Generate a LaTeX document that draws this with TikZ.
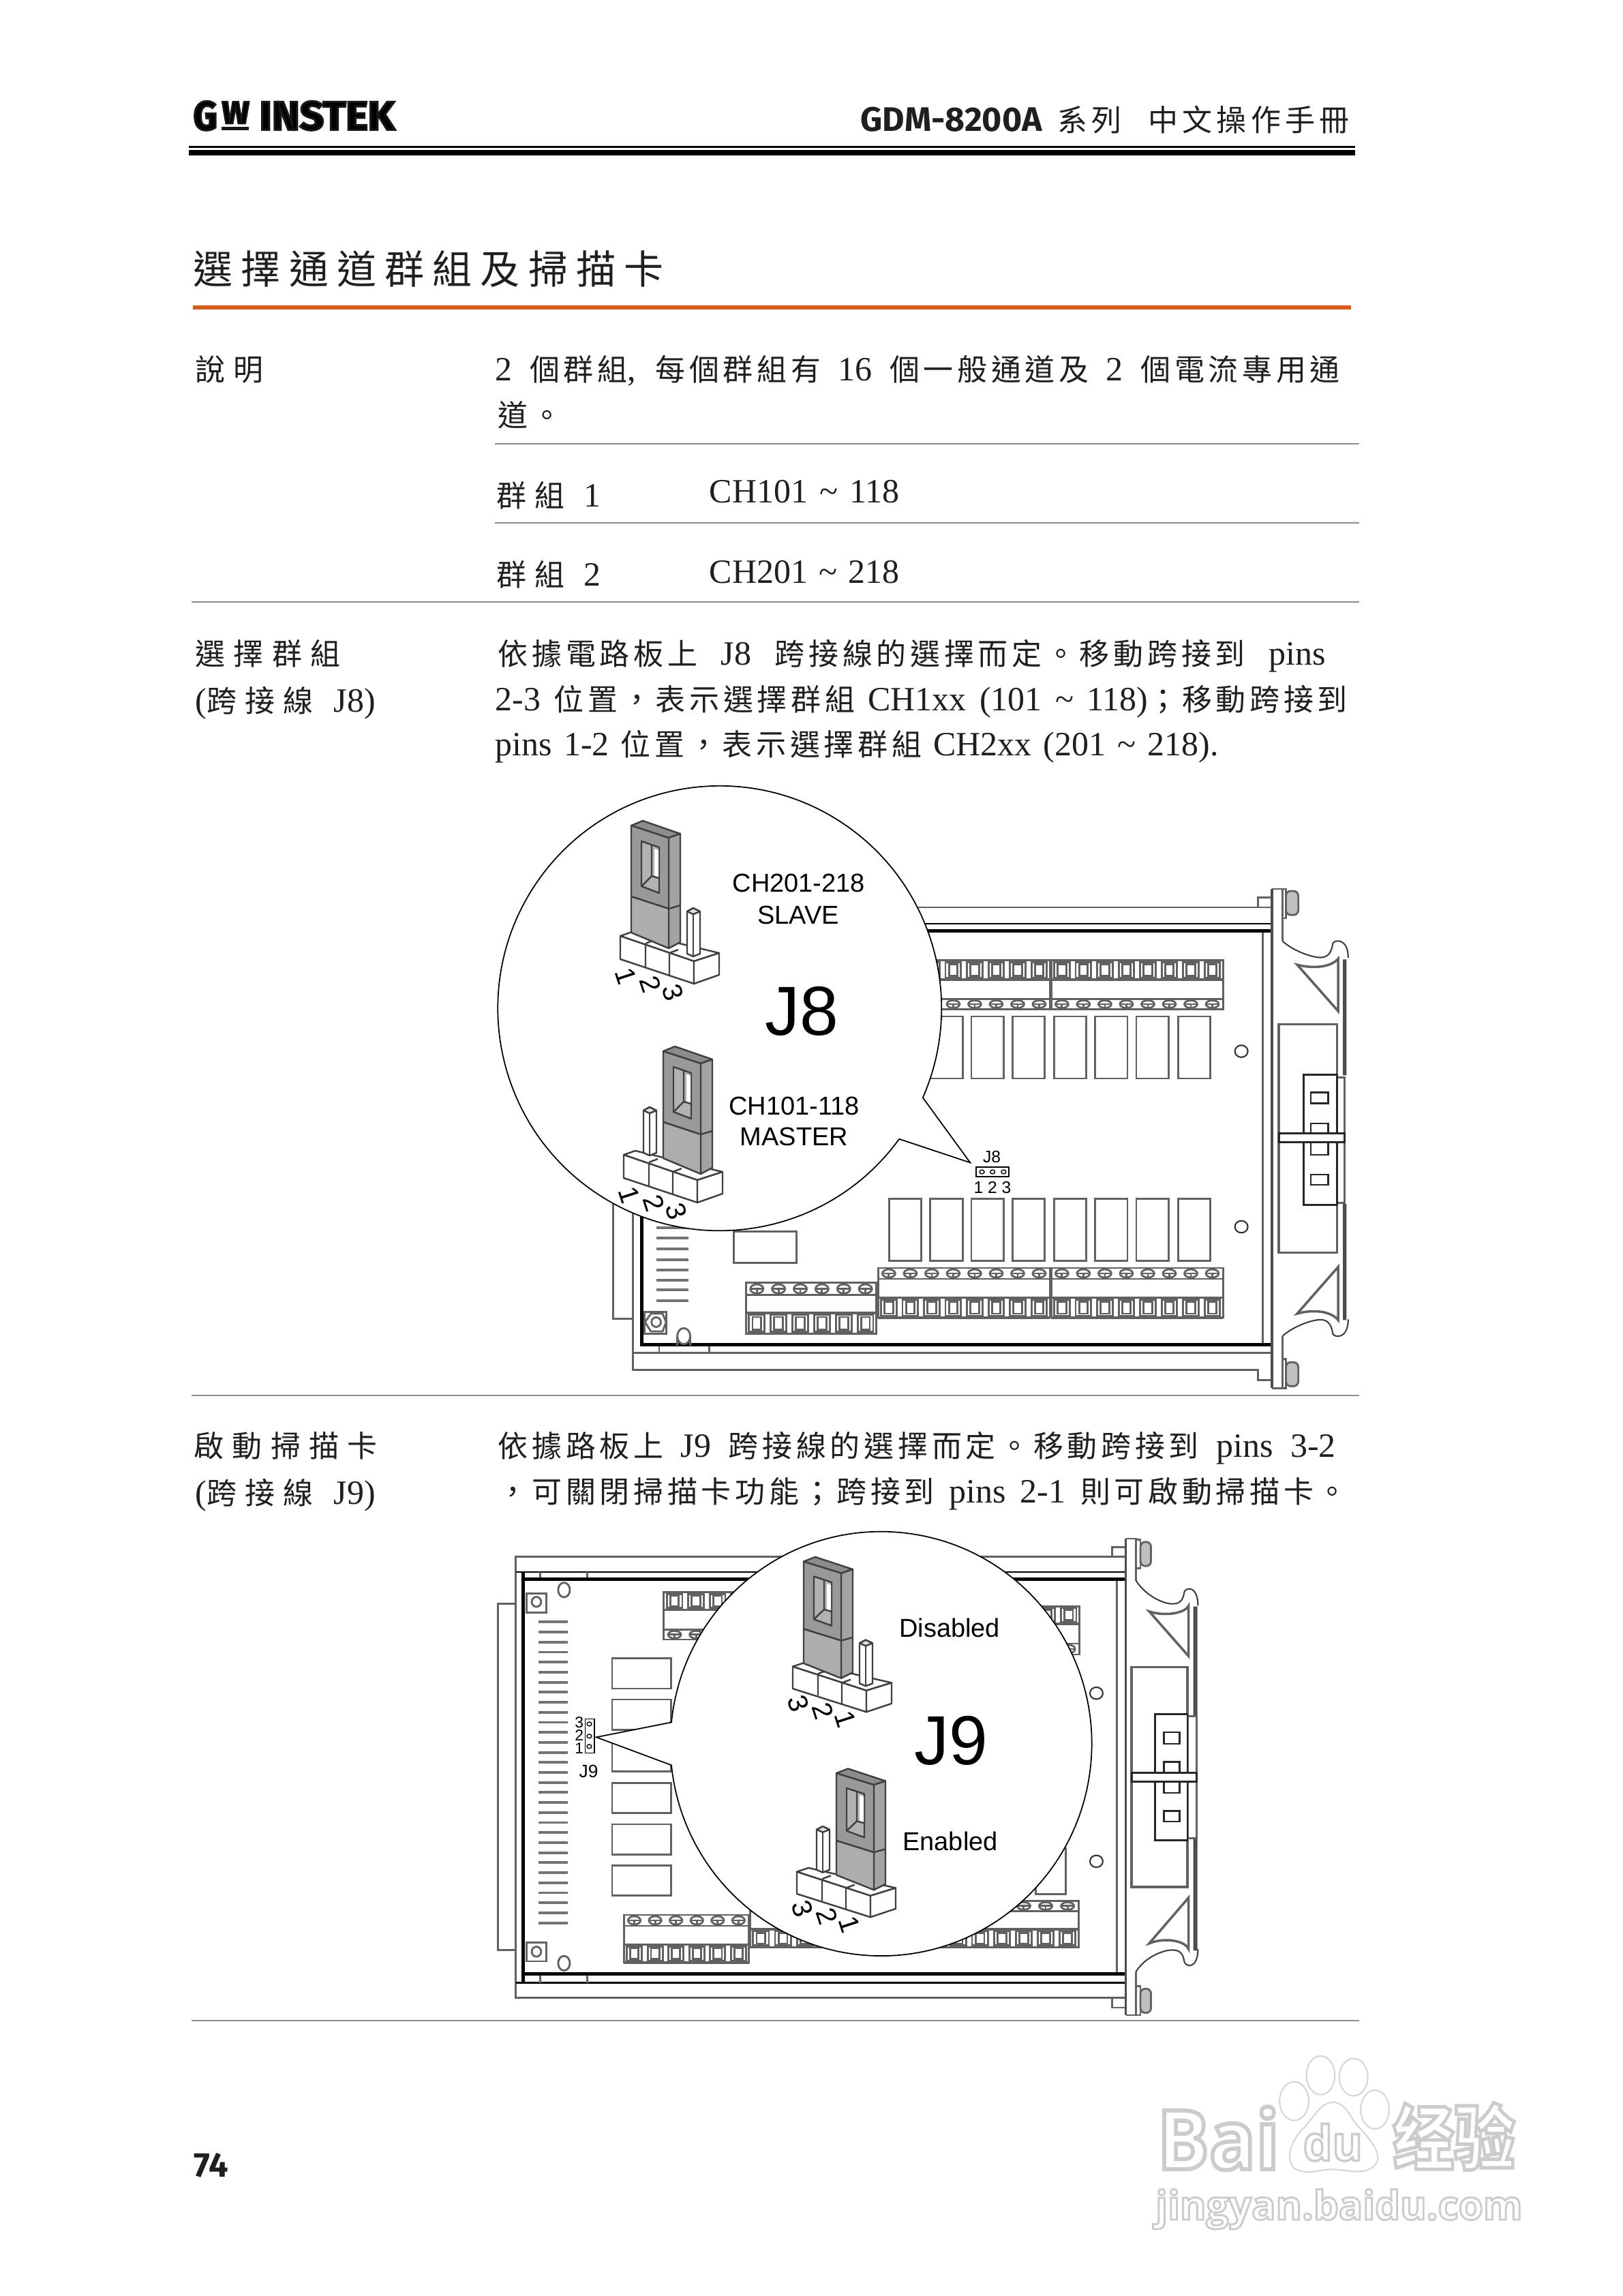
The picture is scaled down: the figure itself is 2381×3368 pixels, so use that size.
\documentclass[tikz,border=0pt]{standalone}
\usepackage{fontspec}
\setmainfont{Liberation Serif}
\newfontfamily\cjk[LetterSpace=13]{Noto Sans CJK TC}
\newfontfamily\cjkw[LetterSpace=28]{Noto Sans CJK TC}
\newfontfamily\cjkt[LetterSpace=21]{Noto Sans CJK TC}
\newfontfamily\cjkh[LetterSpace=14]{Noto Sans CJK TC}
\newfontfamily\cjksc{Noto Sans CJK SC}
\newfontfamily\arial{Liberation Sans}
\newfontfamily\fira{Fira Sans}
\newfontfamily\osans{Open Sans}
\newlength\ulen \setlength{\ulen}{0.01cm}
\definecolor{orng}{HTML}{DD5A14}
\definecolor{txt}{gray}{0.12}
\tikzset{
 bl/.style={draw=black!62,line width=0.8pt},
 blk/.style={draw=black,line width=1.4pt},
 jl/.style={draw=black!75,line width=0.7pt,line join=round},
 ln/.style={anchor=base west,inner sep=0pt,text=txt},
 rl/.style={draw=black!45,line width=0.55pt},
 sans/.style={inner sep=0pt,font=\arial\fontsize{10.8}{12}\selectfont,text=black},
 jd/.style={inner sep=0pt,rotate=-72,font=\arial\fontsize{11.5}{12}\selectfont,text=black},
 wm/.style={draw=black!16,line width=0.6pt,fill=white}
}
\newcommand\B{\fontsize{14.2}{16}\selectfont}
\newcommand\Cs{\fontsize{12.5}{15}\selectfont}
\newcommand\C[1]{{\Cs\cjk #1}}
\newcommand\Cw[1]{{\Cs\cjkw #1}}
\newcommand\Ln[4]{\node[ln] at (#1,#2) {\B\makebox[#3\ulen][s]{#4}};}
\newcommand\Lf[3]{\node[ln] at (#1,#2) {\B #3};}
\newcommand\wmt[1]{\special{pdf:code 1 Tr 0.5 w 0.8 G}#1\special{pdf:code 0 Tr 0 G}}
\newcommand\logot[1]{\special{pdf:code 2 Tr 0.5 w 0.1 G}#1\special{pdf:code 0 Tr 0 G}}
\newcommand\tld{\textasciitilde}
% terminal block: x0,n,w,squares y0,y1,screws y0,y1
\newcommand\tblock[7]{%
 \pgfmathsetmacro\xe{#1+#2*#3}
 \pgfmathsetmacro\ya{min(#4,#6)}\pgfmathsetmacro\yb{max(#5,#7)}
 \draw[bl,fill=white] (#1,\ya) rectangle (\xe,\yb);
 \draw[bl,line width=1pt] (#1,#4)--(\xe,#4) (#1,#5)--(\xe,#5);
 \draw[bl] (#1,#6)--(\xe,#6) (#1,#7)--(\xe,#7);
 \pgfmathtruncatemacro\nn{#2-1}
 \foreach \i in {0,...,\nn}{
  \pgfmathsetmacro\xl{#1+\i*#3}
  \pgfmathsetmacro\cy{(#6+#7)/2}\pgfmathsetmacro\ry{(#7-#6)*0.38}
  \pgfmathsetmacro\ym{(#4+#5)/2}\pgfmathsetmacro\hh{(#5-#4)*0.3}
  \draw[bl] ({\xl+#3*0.14},{#4+(#5-#4)*0.1}) rectangle ({\xl+#3*0.86},{#5-(#5-#4)*0.1});
  \draw[bl] ({\xl+#3*0.3},\ym-\hh) rectangle ({\xl+#3*0.7},\ym+\hh);
  \draw[bl] ({\xl+#3*0.5},\cy) ellipse [x radius={#3*0.3},y radius=\ry];
  \draw[bl] ({\xl+#3*0.22},\cy)--({\xl+#3*0.78},\cy) ({\xl+#3*0.5},\cy)--({\xl+#3*0.5},\cy+\ry);
 }
}
% jumper parts in local px
\newcommand\jbase{%
 \draw[jl,fill=white] (0,-34)--(17,-40)--(145,-9)--(108,3)--cycle;
 \draw[jl,fill=white] (0,-34)--(108,3)--(108,36)--(0,0)--cycle;
 \draw[jl,fill=white] (108,3)--(145,-9)--(145,23)--(108,36)--cycle;
 \draw[jl] (37,-23)--(37,11) (72,-9)--(72,23) (37,-23)--(50,-28) (72,-9)--(85,-14);
}
\newcommand\jpin[2]{\begin{scope}[shift={(#1,#2)}]
 \draw[jl,fill=white] (98,-70)--(98,-8)--(107,-4)--(117,-8)--(117,-70)--(107,-75)--cycle;
 \draw[jl,fill=black!12] (98,-70)--(107,-75)--(117,-70)--(107,-66)--cycle;
 \draw[jl] (107,-66)--(107,-4);
 \end{scope}}
\newcommand\jcap[2]{\begin{scope}[shift={(#1,#2)}]
 \filldraw[jl,fill=black!45] (16,-196)--(33,-203)--(88,-184)--(71,-178)--cycle;
 \filldraw[jl,fill=black!36] (71,-178)--(88,-184)--(88,-25)--(71,-16)--cycle;
 \filldraw[jl,fill=black!40] (16,-196)--(71,-178)--(71,-74)--(16,-92)--cycle;
 \filldraw[jl,fill=black!32] (16,-92)--(71,-74)--(71,-16)--(16,-39)--cycle;
 \draw[jl] (71,-74)--(88,-79);
 \filldraw[jl,fill=black!30] (31,-173)--(57,-164)--(57,-97)--(31,-107)--cycle;
 \fill[white] (50,-162)--(56,-160)--(56,-120)--(50,-122)--cycle;
 \draw[jl] (46,-168)--(46,-122) (31,-107)--(46,-122)--(57,-119);
 \end{scope}}
\newcommand\jdig[4]{\node[jd] at (8,#4+25) {#1}; \node[jd] at (44,#4+37) {#2}; \node[jd] at (77,#4+49) {#3};}
\begin{document}
\begin{tikzpicture}[x=0.01cm,y=-0.01cm]
\useasboundingbox (0,0) rectangle (2381,3368);
\fill[white] (0,0) rectangle (2381,3368);
% header
\node[inner sep=0pt,anchor=south west] (logoG) at (283,192) {\resizebox{0.35cm}{0.42cm}{\fira\bfseries\logot{G}}};
\node[inner sep=0pt,anchor=south west] (logoW) at (325,182) {\resizebox{0.40cm}{0.32cm}{\fira\bfseries\logot{W}}};
\fill[black!90] (325,186) rectangle (365,191);
\node[inner sep=0pt,anchor=south west] (logoI) at (380,192) {\resizebox{1.98cm}{0.42cm}{\fira\bfseries\logot{INSTEK}}};
\node[ln] (ttlA) at (1262,192) {\fira\bfseries\fontsize{14.2}{16}\selectfont GDM-8200A};
\node[ln] (ttlB) at (1551,192) {\Cs\cjkh 系列};
\node[ln] (ttlC) at (1684,192) {\Cs\cjkh 中文操作手冊};
\fill[black] (277,214) rectangle (1988,217);
\fill[black] (277,220) rectangle (1988,228);
\node[ln] (title) at (283,416) {\fontsize{16.5}{18}\selectfont\cjkt 選擇通道群組及掃描卡};
\fill[orng] (283,448) rectangle (1982,454);
% text rows
\Lf{286}{558}{\Cw{說明}}
\Ln{726}{558}{1239}{2 \C{個群組}, \C{每個群組有} 16 \C{個一般通道及} 2 \C{個電流專用通}}
\Lf{730}{625}{\C{道。}}
\draw[rl] (726,651)--(1994,651);
\Ln{728}{743}{153}{\Cw{群組} 1}
\Ln{1040}{737}{279}{CH101 \tld{} 118}
\draw[rl] (726,767)--(1994,767);
\Ln{728}{859}{153}{\Cw{群組} 2}
\Ln{1040}{855}{279}{CH201 \tld{} 218}
\draw[rl] (281,883)--(1994,883);
\Lf{286}{975}{\Cw{選擇群組}}
\Ln{286}{1044}{264}{(\Cw{跨接線} J8)}
\Ln{730}{975}{1214}{\C{依據電路板上} J8 \C{跨接線的選擇而定。移動跨接到} pins}
\Ln{726}{1042}{1250}{2-3 \C{位置，表示選擇群組} CH1xx (101 \tld{} 118)\C{；移動跨接到}}
\Ln{726}{1108}{1061}{pins 1-2 \C{位置，表示選擇群組} CH2xx (201 \tld{} 218).}
\draw[rl] (281,2047)--(1994,2047);
\Lf{284}{2137}{\Cw{啟動掃描卡}}
\Ln{286}{2206}{264}{(\Cw{跨接線} J9)}
\Ln{730}{2137}{1229}{\C{依據路板上} J9 \C{跨接線的選擇而定。移動跨接到} pins 3-2}
\Ln{730}{2204}{1246}{\C{，可關閉掃描卡功能；跨接到} pins 2-1 \C{則可啟動掃描卡。}}
\draw[rl] (281,2964)--(1994,2964);
\node[ln] (page) at (284,3193) {\fira\bfseries\fontsize{14.4}{16}\selectfont 74};
% ---------------- BOARD 1
\begin{scope}[shift={(700,1150)},x=0.00861cm,y=-0.00587cm]
 \draw[bl] (232,1000)--(232,1335)--(265,1335);
 \draw[bl] (265,1000)--(265,1462)--(1330,1462)--(1330,1488)--(1354,1488);
 \draw[bl] (265,1420)--(1354,1420);
 \draw[bl] (310,1402)--(310,1420) (395,1402)--(395,1420);
 \draw[bl] (600,308)--(1354,308);
 \draw[bl] (1330,308)--(1330,283)--(1354,283);
 \draw[draw=black,line width=0.6pt] (600,349)--(1354,349);
 \draw[bl] (1338,366)--(1338,1400);
 \draw[blk] (600,366)--(1354,366);
 \draw[blk] (280,1000)--(280,1400)--(1354,1400);
 % front panel
 \draw[draw=black!70,line width=1.1pt] (1354,262)--(1354,1508);
 \draw[bl] (1354,262)--(1372,262)--(1372,392) (1354,1508)--(1372,1508)--(1372,1378);
 % screws
 \draw[bl,fill=white] (1372,262) rectangle (1378,335);
 \draw[bl,rounded corners=2pt,fill=black!25] (1378,267) rectangle (1399,327);
 \draw[bl,fill=white] (1372,1435) rectangle (1378,1508);
 \draw[bl,rounded corners=2pt,fill=black!25] (1378,1443) rectangle (1399,1503);
 % clips
 \draw[draw=black!75,line width=0.6pt] (1372,392) .. controls (1388,414) and (1420,433) .. (1437,433) .. controls (1452,433) and (1456,415) .. (1458,397) .. controls (1462,388) and (1484,385) .. (1484,434);
 \draw[draw=black!75,line width=0.6pt] (1372,1378) .. controls (1388,1356) and (1420,1337) .. (1437,1337) .. controls (1452,1337) and (1456,1355) .. (1458,1373) .. controls (1462,1382) and (1484,1385) .. (1484,1336);
 \draw[bl,line width=1pt,line join=miter] (1397,451) .. controls (1425,462) and (1455,457) .. (1467,436)--(1467,567)--cycle;
 \draw[bl,line width=1pt,line join=miter] (1397,1322) .. controls (1425,1310) and (1455,1316) .. (1467,1338)--(1467,1205)--cycle;
 \fill[black!70] (1475,438) rectangle (1481,727) (1475,1048) rectangle (1481,1338);
 % connector
 \draw[bl,line width=1pt] (1366,600) rectangle (1465,1170);
 \draw[bl] (1465,732)--(1478,732)--(1478,1045)--(1465,1045);
 \draw[draw=black!85,line width=0.8pt,fill=white] (1408,725) rectangle (1465,1050);
 \draw[draw=black!85,line width=0.8pt,fill=white] (1366,872) rectangle (1478,894);
 \draw[draw=black!85,line width=0.7pt] (1420,770) rectangle (1450,797) (1420,847) rectangle (1450,872) (1420,894) rectangle (1450,925) (1420,975) rectangle (1450,1000);
 % relays
 \foreach \x in {702,772,842,912,983,1053,1123,1194}{
  \draw[bl] (\x,580) rectangle ({\x+55},735);
  \draw[bl] (\x,1035) rectangle ({\x+55},1190);
 }
 \draw[draw=black!80,line width=0.6pt] (1302,667) ellipse [x radius=11,y radius=15];
 \draw[draw=black!80,line width=0.6pt] (1302,1105) ellipse [x radius=11,y radius=15];
 % terminals
 \tblock{683}{8}{36.6}{440}{488}{537}{562}
 \tblock{978}{8}{36.6}{440}{488}{537}{562}
 \tblock{683}{8}{36.6}{1282}{1332}{1208}{1235}
 \tblock{978}{8}{36.6}{1282}{1332}{1208}{1235}
 \tblock{458}{6}{37}{1320}{1372}{1245}{1275}
 % misc
 \draw[bl] (437,1117) rectangle (544,1195);
 \foreach \y in {1080,1107,1133,1160,1187,1213,1238,1263,1290}{ \draw[draw=black!55,line width=1.1pt] (305,\y)--(360,\y); }
 \draw[bl] (285,1318) rectangle (322,1372);
 \draw[bl] (305,1343) ellipse [x radius=8,y radius=12];
 \draw[bl] (286,1343)--(296,1322)--(316,1322)--(322,1343)--(316,1366)--(296,1366)--cycle;
 \draw[bl] (352,1378) ellipse [x radius=11,y radius=20];
 \draw[bl] (341,1380)--(341,1402) (363,1380)--(363,1402);
 % small J8
 \node[sans,font=\arial\fontsize{7}{8}\selectfont] (j8s) at (877,931) {J8};
 \draw[draw=black,line width=0.5pt] (850,956) rectangle (906,980);
 \foreach \x in {860,878,897}{ \draw[draw=black,line width=0.4pt] (\x,968) ellipse [x radius=4,y radius=5]; }
 \node[sans,font=\arial\fontsize{7}{8}\selectfont] (j8d) at (878,1008) {1 2 3};
 % callout
 \draw[draw=black,line width=0.5pt,fill=white] (719,886) arc[start angle=36,end angle=383.7,x radius=378,y radius=555] -- (840,945) -- cycle;
 \node[sans] (t1) at (548,248) {CH201-218};
 \node[sans] (t2) at (547,327) {SLAVE};
 \node[sans,font=\arial\fontsize{29}{30}\selectfont] (t3) at (553,567) {J8};
 \node[sans] (t4) at (540,803) {CH101-118};
 \node[sans] (t5) at (540,881) {MASTER};
\end{scope}
\begin{scope}[shift={(910,1407)},x=0.01cm,y=-0.01cm]
 \jbase \jcap{0}{0} \jpin{0}{0} \jdig{1}{2}{3}{0}
\end{scope}
\begin{scope}[shift={(915,1728)},x=0.01cm,y=-0.01cm]
 \jbase \jpin{-69}{-29} \jcap{42}{10} \jdig{1}{2}{3}{0}
\end{scope}
% ---------------- BOARD 2
\begin{scope}[shift={(700,2240)},x=0.00861cm,y=-0.004847cm]
 \draw[bl] (66,232)--(35,232)--(35,1278)--(66,1278);
 \draw[bl] (1105,90)--(66,90)--(66,1422)--(1082,1422)--(1082,1452)--(1105,1452);
 \draw[bl] (1082,90)--(1082,60)--(1105,60);
 \draw[bl] (1082,1422)--(1105,1422);
 \draw[draw=black,line width=0.6pt] (66,135)--(1105,135) (66,1377)--(1105,1377);
 \draw[bl] (107,135)--(107,157) (188,135)--(188,157) (107,1350)--(107,1377) (188,1350)--(188,1377);
 \draw[bl] (1090,157)--(1090,1350);
 \draw[blk] (78,135)--(78,1377);
 \draw[blk] (78,157)--(1105,157) (78,1350)--(1105,1350);
 \draw[draw=black!70,line width=1.1pt] (1105,35)--(1105,1475);
 \draw[bl] (1105,35)--(1122,35)--(1122,160) (1105,1475)--(1122,1475)--(1122,1345);
 \draw[bl,fill=white] (1122,38) rectangle (1130,125);
 \draw[bl,rounded corners=2pt,fill=black!25] (1130,45) rectangle (1148,118);
 \draw[bl,fill=white] (1122,1388) rectangle (1130,1475);
 \draw[bl,rounded corners=2pt,fill=black!25] (1130,1395) rectangle (1148,1468);
 \draw[draw=black!75,line width=0.6pt] (1122,160) .. controls (1135,200) and (1165,232) .. (1185,232) .. controls (1200,232) and (1203,215) .. (1205,195) .. controls (1210,180) and (1228,180) .. (1228,238);
 \draw[draw=black!75,line width=0.6pt] (1122,1345) .. controls (1135,1305) and (1165,1278) .. (1185,1278) .. controls (1200,1278) and (1203,1295) .. (1205,1315) .. controls (1210,1332) and (1228,1332) .. (1228,1275);
 \draw[bl,line width=1pt,line join=miter] (1145,255) .. controls (1170,270) and (1205,262) .. (1212,238)--(1212,390)--cycle;
 \draw[bl,line width=1pt,line join=miter] (1145,1258) .. controls (1170,1240) and (1205,1248) .. (1212,1275)--(1212,1120)--cycle;
 \fill[black!70] (1220,240) rectangle (1227,572) (1220,940) rectangle (1227,1280);
 \draw[bl,line width=1pt] (1115,423) rectangle (1210,1088);
 \draw[bl] (1210,572)--(1226,572)--(1226,940)--(1210,940);
 \draw[draw=black!85,line width=0.8pt,fill=white] (1155,565) rectangle (1210,947);
 \draw[draw=black!85,line width=0.8pt,fill=white] (1115,742) rectangle (1226,770);
 \draw[draw=black!85,line width=0.7pt] (1170,620) rectangle (1197,655) (1170,710) rectangle (1197,742) (1170,770) rectangle (1197,803) (1170,858) rectangle (1197,890);
 \foreach \y in {397,521,648,773,898,1023}{ \draw[bl] (230,\y) rectangle (330,{\y+91}); }
 \draw[bl] (952,970) rectangle (1003,1110);
 \draw[draw=black!80,line width=0.6pt] (1055,502) ellipse [x radius=11,y radius=18];
 \draw[draw=black!80,line width=0.6pt] (1055,1010) ellipse [x radius=11,y radius=18];
 \tblock{318}{8}{36.6}{197}{250}{310}{340}
 \tblock{660}{10}{36.6}{240}{292}{352}{385}
 \tblock{465}{15}{37.3}{1215}{1270}{1130}{1160}
 \tblock{250}{6}{35.5}{1262}{1316}{1172}{1205}
 \foreach \y in {287,317.3,...,1226}{ \draw[draw=black!55,line width=1.1pt] (105,\y)--(155,\y); }
 \draw[bl] (84,200) rectangle (118,258);
 \draw[bl] (101,226) ellipse [x radius=8,y radius=15];
 \draw[bl] (84,1255) rectangle (118,1312);
 \draw[bl] (101,1283) ellipse [x radius=8,y radius=15];
 \draw[bl] (148,190) ellipse [x radius=10,y radius=22];
 \draw[bl] (148,1318) ellipse [x radius=10,y radius=22];
 % J9 small
 \draw[draw=black,line width=0.5pt] (184,580) rectangle (200,683);
 \foreach \y in {595,632,663}{ \draw[draw=black,line width=0.4pt] (191,\y) ellipse [x radius=4,y radius=6]; }
 \node[sans,font=\arial\fontsize{6.5}{8}\selectfont] (d3) at (174,590) {3};
 \node[sans,font=\arial\fontsize{6.5}{8}\selectfont] (d2) at (174,630) {2};
 \node[sans,font=\arial\fontsize{6.5}{8}\selectfont] (d1) at (174,668) {1};
 \node[sans,font=\arial\fontsize{7.5}{8}\selectfont] (j9s) at (190,738) {J9};
 % callout
 \draw[draw=black,line width=0.5pt,fill=white] (331,590) arc[start angle=185.8,end angle=534.2,x radius=359,y radius=641] -- (203,635) -- cycle;
 \node[sans] (t6) at (805,305) {Disabled};
 \node[sans,font=\arial\fontsize{29}{30}\selectfont] (t7) at (807,645) {J9};
 \node[sans] (t8) at (806,950) {Enabled};
\end{scope}
\begin{scope}[shift={(1163,2477)},x=0.01cm,y=-0.0095cm]
 \jbase \jcap{0}{0} \jpin{0}{0} \jdig{3}{2}{1}{-2}
\end{scope}
\begin{scope}[shift={(1169,2778)},x=0.01cm,y=-0.0095cm]
 \jbase \jpin{-69}{-29} \jcap{42}{10} \jdig{3}{2}{1}{-2}
\end{scope}
% ---------------- WATERMARK
\begin{scope}[shift={(1600,2950)},x=0.00498cm,y=-0.00334cm]
 \draw[wm] (600,395) ellipse [x radius=43,y radius=85];
 \draw[wm] (678,282) ellipse [x radius=42,y radius=85];
 \draw[wm] (775,290) ellipse [x radius=42,y radius=82];
 \draw[wm] (838,432) ellipse [x radius=42,y radius=85];
 \draw[wm] (715,400) .. controls (680,400) and (660,460) .. (630,510) .. controls (595,560) and (570,640) .. (600,690) .. controls (640,725) and (680,690) .. (720,695) .. controls (770,700) and (820,725) .. (845,660) .. controls (860,600) and (780,500) .. (770,470) .. controls (755,425) and (735,400) .. (715,400) -- cycle;
 \node[inner sep=0pt,anchor=south west] (wm1) at (195,700) {\resizebox{1.79cm}{0.92cm}{\osans\bfseries\wmt{Bai}}};
 \node[inner sep=0pt,anchor=south west] (wm2) at (625,660) {\resizebox{0.87cm}{0.54cm}{\osans\bfseries\wmt{du}}};
 \node[inner sep=0pt,anchor=south west] (wm3) at (890,700) {\resizebox{1.79cm}{0.90cm}{\cjksc\bfseries\wmt{经验}}};
 \node[inner sep=0pt,anchor=base west] (wm4) at (190,915) {\resizebox{5.38cm}{!}{\osans\bfseries\wmt{jingyan.baidu.com}}};
\end{scope}
\end{tikzpicture}
\end{document}
